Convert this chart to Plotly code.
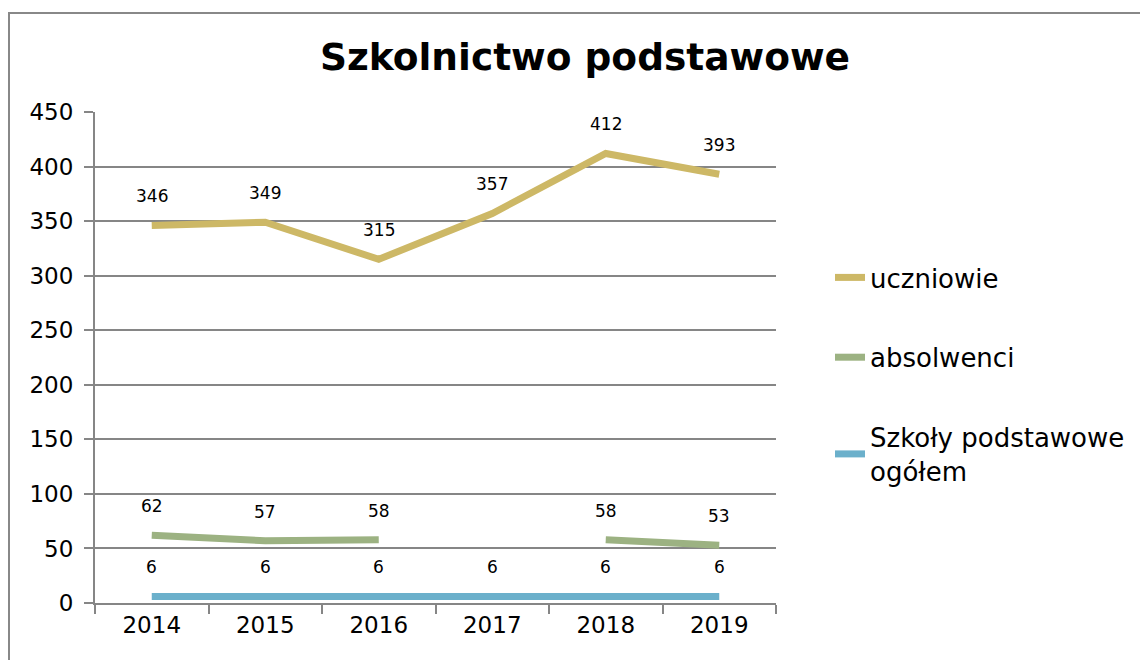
import plotly.graph_objects as go

years = ["2014", "2015", "2016", "2017", "2018", "2019"]
uczniowie = [346, 349, 315, 357, 412, 393]
absolwenci = [62, 57, 58, None, 58, 53]
szkoly = [6, 6, 6, 6, 6, 6]

series = [
    ("uczniowie", uczniowie, "#CDB866"),
    ("absolwenci", absolwenci, "#9CB282"),
    ("Szkoły podstawowe<br>ogółem", szkoly, "#6BB0CB"),
]

FONT = "DejaVu Sans"
fig = go.Figure()
annotations = []
for i, (name, vals, color) in enumerate(series):
    fig.add_trace(go.Scatter(
        x=years, y=vals, name=name, mode="lines",
        line=dict(color=color, width=7), connectgaps=False,
        legendgroup=str(i),
    ))
    for j, v in enumerate(vals):
        if v is None:
            continue
        annotations.append(dict(x=j, y=v, xref="x", yref="y", text=str(v), showarrow=False,
                                yshift=29, font=dict(family=FONT, size=17, color="#000")))

OFF = 8  # page body margin
W, H = 1148 - OFF, 660 - OFF
L, T = 95 - OFF, 112 - OFF
pw, ph = 776 - 95, 603 - 112
R, B = W - L - pw, H - T - ph

fig.update_layout(
    width=W, height=H,
    margin=dict(l=L, r=R, t=T, b=B),
    paper_bgcolor="white", plot_bgcolor="white",
    font=dict(family=FONT, size=23, color="#000"),
    title=dict(text="<b>Szkolnictwo podstawowe</b>", x=(585 - OFF) / W, xanchor="center",
               y=1 - (57 - OFF) / H, yanchor="middle", font=dict(family=FONT, size=37.5, color="#000")),
    showlegend=True,
    legend=dict(x=(830 - 95) / pw, y=(603 - 254) / ph, xanchor="left", yanchor="top",
                font=dict(family=FONT, size=26, color="#000"), tracegroupgap=43,
                bgcolor="rgba(0,0,0,0)"),
    annotations=annotations,
    xaxis=dict(type="category", showgrid=False, showline=True, linecolor="#868686", linewidth=2,
               ticks="outside", tickson="boundaries", ticklen=9, tickcolor="#868686", tickwidth=2,
               tickfont=dict(family=FONT, size=23), range=[-0.5, 5.5]),
    yaxis=dict(range=[0, 450], dtick=50, showgrid=True, gridcolor="#868686", gridwidth=2,
               showline=True, linecolor="#868686", linewidth=2, ticks="outside", ticklen=9,
               tickcolor="#868686", tickwidth=2, zeroline=False, ticklabelstandoff=6,
               tickfont=dict(family=FONT, size=23)),
    shapes=[dict(type="rect", xref="paper", yref="paper",
                 x0=(9 - 95) / pw, x1=(1170 - 95) / pw,
                 y0=(603 - 690) / ph, y1=(603 - 13) / ph,
                 line=dict(color="#888888", width=2), layer="below")],
)

fig.write_html("out.html")
